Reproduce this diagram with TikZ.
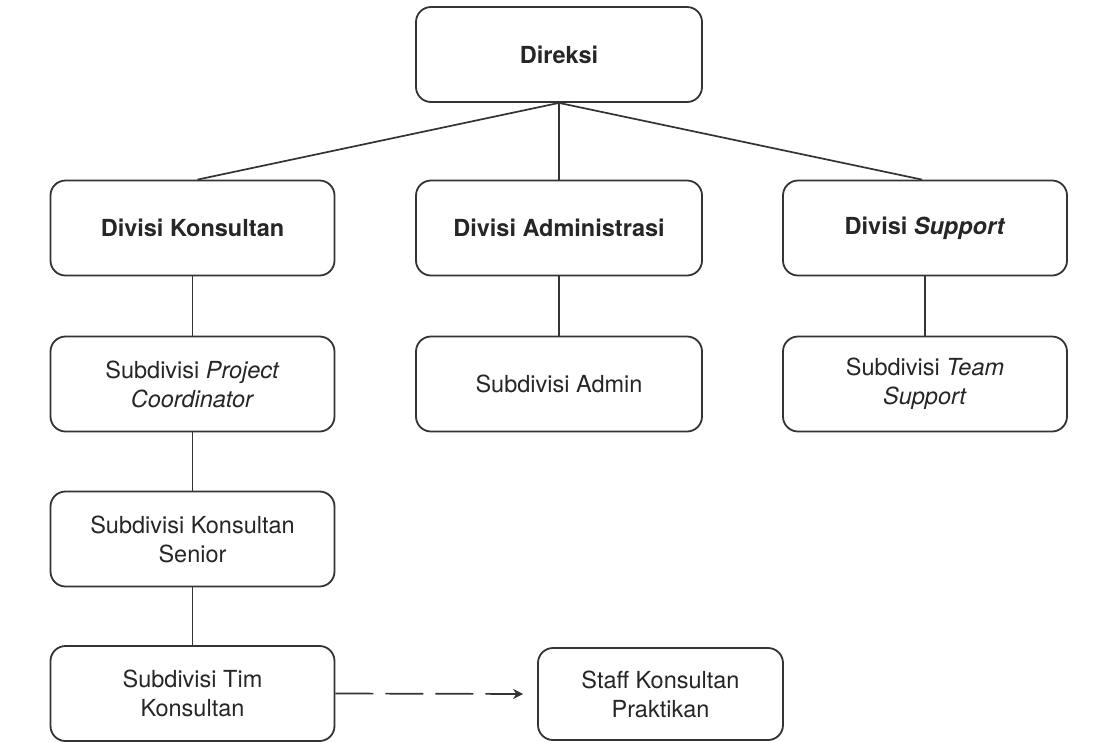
\documentclass[tikz,border=0pt]{standalone}
\usepackage{fontspec}
\setmainfont{TeX Gyre Heros}
\usetikzlibrary{arrows.meta}
\tikzset{
	kotak/.style={draw=black!80, line width=0.9pt, rounded corners=7.5pt, fill=white, align=center,
		minimum width=142pt, minimum height=47.5pt, font=\fontsize{11.75}{14.5}\selectfont, text=black!85},
	garis/.style={draw=black!80, line width=0.85pt}
}

\begin{document}
\begin{tikzpicture}[x=0.5pt, y=-0.5pt]
		\useasboundingbox (0,0) rectangle (1109,741);

		\node[kotak, minimum width=143pt] (dir) at (559, 54.5) {\textbf{Direksi}};

		\node[kotak] (dk) at (192.5, 228) {\textbf{Divisi Konsultan}};
		\node[kotak, minimum width=143pt] (da) at (559, 228) {\textbf{Divisi Administrasi}};
		\node[kotak] (ds) at (925, 228) {\textbf{Divisi \textit{Support}}};

		\node[kotak] (pc) at (192.5, 384) {Subdivisi \textit{Project}\\\textit{Coordinator}};
		\node[kotak, minimum width=143pt] (adm) at (559, 384) {Subdivisi Admin};
		\node[kotak] (tms) at (925, 384) {Subdivisi \textit{Team}\\\textit{Support}};

		\node[kotak] (ks) at (192.5, 539) {Subdivisi Konsultan\\Senior};
		\node[kotak] (tk) at (192.5, 693.5) {Subdivisi Tim\\Konsultan};

		\node[kotak, minimum width=122.5pt, minimum height=46pt] (st) at (660.5, 694) {Staff Konsultan\\Praktikan};

		\draw[garis] (dir.south) -- ([xshift=2.5pt]dk.north);
		\draw[garis] (dir.south) -- (da.north);
		\draw[garis] (dir.south) -- ([xshift=-1.5pt]ds.north);

		\draw[garis] (dk.south) -- (pc.north);
		\draw[garis] (da.south) -- (adm.north);
		\draw[garis] (ds.south) -- (tms.north);
		\draw[garis] (pc.south) -- (ks.north);
		\draw[garis] (ks.south) -- (tk.north);

		\draw[garis, dash pattern=on 19pt off 6pt, shorten >=7pt, -{Stealth[length=5pt, width=5pt]}] (tk.east) -- (st.west);
	\end{tikzpicture}
\end{document}
